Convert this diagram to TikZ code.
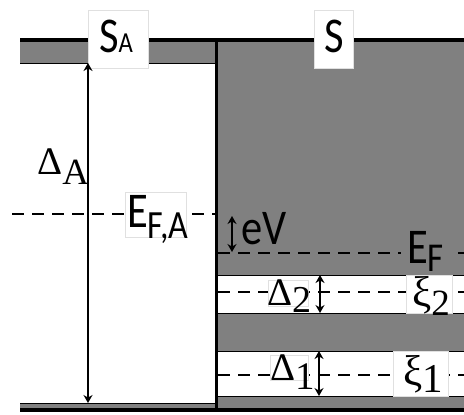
\documentclass[tikz,border=0pt]{standalone}
\usepackage{fontspec}
\setmainfont[FakeStretch=0.85]{Carlito}
\newfontfamily\grk{Liberation Serif}
\usetikzlibrary{arrows.meta}
\newcommand{\lsub}[3]{\raisebox{-#1bp}{\fontsize{#2bp}{#2bp}\selectfont #3}}

\begin{document}
\begin{tikzpicture}[x=1bp, y=-1bp,
    frm/.style={draw=black!12, fill=white, line width=0.6bp, inner sep=0pt},
    sns/.style={font=\fontsize{50bp}{50bp}\selectfont, inner sep=0pt, anchor=base west},
    grs/.style={font=\grk\fontsize{39bp}{39bp}\selectfont, inner sep=0pt, anchor=base west},
    dsh/.style={line width=2bp, dash pattern=on 12bp off 8bp},
    arr/.style={{Stealth[length=8bp,width=9bp]}-{Stealth[length=8bp,width=9bp]}, line width=1.9bp},
    edge/.style={line width=3.6bp},
    thn/.style={line width=1bp}
]
\useasboundingbox (0,0) rectangle (464,414);
% gray bands
\fill[black!50] (20,42) rectangle (216,63);
\fill[black!50] (216,42) rectangle (464,409);
\fill[black!50] (20,403) rectangle (216,409);
\draw[thn] (20,63) -- (216,63);
\draw[thn] (20,403) -- (216,403);
\filldraw[thn, fill=white] (216,275) rectangle (470,313);
\filldraw[thn, fill=white] (216,351) rectangle (470,396);

% levels
\draw[dsh] (12,214) -- (216,214);
\draw[dsh] (218,253) -- (464,253);
\draw[dsh] (218,292) -- (464,292);
\draw[dsh] (218,375) -- (464,375);

% edges
\draw[edge] (20,40) -- (464,40);
\draw[edge] (216.5,40) -- (216.5,411);
\draw[edge] (20,410) -- (464,410);

% frames
\node[frm, minimum width=60bp, minimum height=58bp] (safrm) at (118,39) {};
\node[frm, minimum width=39bp, minimum height=58bp] (sfrm) at (333.5,39) {};
\node[frm, minimum width=61bp, minimum height=45bp] (efafrm) at (155.5,214.5) {};
\node[fill=black!50, inner sep=0pt, minimum width=50bp, minimum height=30bp] (effrm) at (426,256) {};
\node[frm, minimum width=40bp, minimum height=26bp] (dtwofrm) at (288,293) {};
\node[frm, minimum width=46bp, minimum height=38bp] (xtwofrm) at (429,294) {};
\node[frm, minimum width=38bp, minimum height=25bp] (donefrm) at (289,367.5) {};
\node[frm, minimum width=55bp, minimum height=45bp] (xonefrm) at (420.5,373.5) {};

% labels
\node[sns] (satxt) at (99,52) {S\lsub{0}{29}{A}};
\node[sns] (stxt) at (324,52) {S};
\node[grs] (datxt) at (37,174) {Δ\lsub{10}{37}{A}};
\node[sns] (efatxt) at (127,227) {E\lsub{11}{40}{F,A}};
\node[sns] (evtxt) at (241,244) {eV};
\node[sns] (eftxt) at (407,263) {E\lsub{8}{41}{F}};
\node[grs] (dtwotxt) at (267,305) {Δ\lsub{7}{38}{2}};
\node[grs, font=\grk\fontsize{43bp}{43bp}\selectfont] (xtwotxt) at (412,306) {ξ\lsub{9}{37}{2}};
\node[grs] (donetxt) at (270,380) {Δ\lsub{9}{39}{1}};
\node[grs, font=\grk\fontsize{43bp}{43bp}\selectfont] (xonetxt) at (403,385) {ξ\lsub{7}{41}{1}};

% gaps
\coordinate (datop) at (88,63);
\coordinate (dabot) at (88,403);
\coordinate (evtop) at (232,216);
\coordinate (evbot) at (232,252);
\coordinate (dtwotop) at (320,275);
\coordinate (dtwobot) at (320,313);
\coordinate (donetop) at (319,351);
\coordinate (donebot) at (319,396);
\draw[arr] (datop) -- (dabot);
\draw[arr] (evtop) -- (evbot);
\draw[arr] (dtwotop) -- (dtwobot);
\draw[arr] (donetop) -- (donebot);
\end{tikzpicture}
\end{document}
